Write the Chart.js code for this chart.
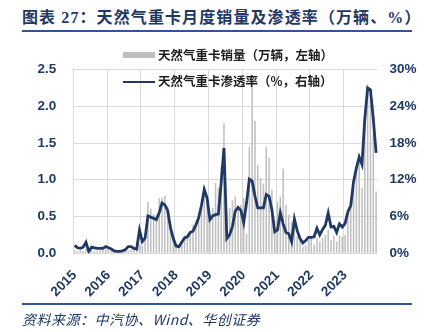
<!DOCTYPE html>
<html>
<head>
<meta charset="utf-8">
<script src="https://cdn.jsdelivr.net/npm/chart.js@4/dist/chart.umd.min.js"></script>
<style>
  body { margin: 0; background: #fff; }
  #wrap { position: relative; width: 434px; height: 332px; overflow: hidden; }
  #chart { position: absolute; left: 0; top: 0; }
  .title { position: absolute; left: 22px; top: 4px; font: bold 16px "Liberation Serif", "Noto Sans CJK SC", serif; color: #1F3864; white-space: nowrap; letter-spacing: 1.1px; }
  .rule { position: absolute; left: 22px; width: 390px; height: 2px; background: #2F5597; }
  .lg-text { position: absolute; left: 158px; font: bold 12.5px "Noto Sans CJK SC", sans-serif; color: #1c1c1c; white-space: nowrap; line-height: 14px; }
  .source { position: absolute; left: 22px; top: 310px; font: italic 14px "Noto Sans CJK SC", serif; color: #1F3864; white-space: nowrap; line-height: 18px; letter-spacing: 0.5px; }
</style>
</head>
<body>
<div id="wrap">
  <div class="title">图表 27：天然气重卡月度销量及渗透率（万辆、%）</div>
  <div class="rule" style="top:29.5px"></div>
  <canvas id="chart" width="434" height="332"></canvas>
  <div style="position:absolute;left:123px;top:52px;width:32px;height:5.5px;background:#BFBFBF"></div>
  <div class="lg-text" style="top:48px">天然气重卡销量（万辆，左轴）</div>
  <div style="position:absolute;left:123px;top:80.5px;width:32px;height:2.6px;background:#1F3864"></div>
  <div class="lg-text" style="top:74px">天然气重卡渗透率（%，右轴）</div>
  <div class="rule" style="top:302.5px"></div>
  <div class="source">资料来源：中汽协、Wind、华创证券</div>
</div>
<script>
const years = ['2015', '2016', '2017', '2018', '2019', '2020', '2021', '2022', '2023'];
const months = years.flatMap(y => Array.from({ length: 12 }, (_, i) => y + '-' + String(i + 1).padStart(2, '0')));

// 天然气重卡销量（万辆）
const sales = [
  0.04, 0.03, 0.04, 0.03, 0.06, 0.02, 0.04, 0.03, 0.03, 0.04, 0.05, 0.06,
  0.04, 0.03, 0.02, 0.02, 0.02, 0.02, 0.03, 0.04, 0.05, 0.06, 0.08, 0.12,
  0.10, 0.18, 0.70, 0.61, 0.53, 0.52, 0.75, 0.76, 0.78, 0.64, 0.40, 0.23,
  0.09, 0.07, 0.14, 0.23, 0.26, 0.28, 0.39, 0.37, 0.47, 0.64, 0.91, 0.75,
  0.50, 0.62, 0.96, 0.89, 1.19, 1.77, 0.55, 0.62, 0.72, 0.77, 0.63, 0.66,
  0.75, 0.27, 1.45, 2.26, 1.80, 1.20, 1.02, 0.95, 1.45, 1.30, 0.86, 0.45,
  0.70, 0.77, 1.15, 0.66, 0.52, 0.43, 0.37, 0.23, 0.18, 0.09, 0.11, 0.18,
  0.23, 0.12, 0.21, 0.16, 0.21, 0.25, 0.32, 0.18, 0.24, 0.16, 0.24, 0.23,
  0.25, 0.55, 0.66, 0.89, 1.14, 1.36, 0.89, 1.75, 2.30, 2.15, 1.64, 0.84
];

// 天然气重卡渗透率（%）
const penetration = [
  1.3, 0.9, 0.8, 1.0, 1.8, 0.3, 1.0, 0.9, 0.8, 0.8, 0.8, 1.1,
  0.9, 0.7, 0.4, 0.3, 0.3, 0.4, 0.6, 1.1, 1.1, 0.8, 0.7, 3.8,
  1.9, 2.5, 6.1, 5.9, 5.7, 5.5, 6.6, 8.2, 7.9, 7.0, 4.2, 2.4,
  1.2, 1.1, 1.8, 2.5, 2.7, 3.4, 3.6, 4.6, 5.8, 7.8, 10.4, 9.0,
  5.5, 6.1, 6.3, 6.4, 11.5, 17.2, 2.4, 3.0, 4.4, 6.9, 7.5, 7.0,
  5.0, 8.2, 12.1, 11.8, 9.3, 7.4, 7.4, 7.4, 9.6, 9.3, 7.1, 3.5,
  3.8, 6.6, 4.8, 3.4, 3.2, 1.9, 5.6, 3.7, 2.4, 1.7, 2.1, 2.6,
  2.6, 2.7, 4.1, 3.0, 3.9, 4.6, 6.6, 4.3, 4.4, 3.4, 4.8, 4.3,
  4.9, 6.8, 7.8, 11.7, 13.9, 15.7, 14.5, 22.0, 27.0, 26.7, 22.0, 16.4
];

const NAVY = '#1F3864';
const GRID = '#D9D9D9';

Chart.defaults.font.family = '"Liberation Sans", Arial, sans-serif';
Chart.defaults.font.weight = 'bold';
Chart.defaults.font.size = 13.5;
Chart.defaults.color = NAVY;

new Chart(document.getElementById('chart'), {
  data: {
    labels: months,
    datasets: [
      {
        type: 'line',
        label: '天然气重卡渗透率（%，右轴）',
        data: penetration,
        yAxisID: 'y1',
        borderColor: NAVY,
        borderWidth: 2.8,
        pointRadius: 0,
        tension: 0,
        order: 0,
      },
      {
        type: 'bar',
        label: '天然气重卡销量（万辆，左轴）',
        data: sales,
        yAxisID: 'y',
        backgroundColor: '#BFBFBF',
        barPercentage: 0.55,
        categoryPercentage: 1,
        order: 1,
      },
    ],
  },
  options: {
    responsive: false,
    animation: false,
    layout: { padding: { top: 69.5, left: 0, right: 0, bottom: 0 } },
    plugins: { legend: { display: false }, tooltip: { enabled: false } },
    scales: {
      x: {
        offset: true,
        grid: {
          offset: true,
          drawTicks: false,
          color: ctx => ctx.index % 12 === 0 ? GRID : 'transparent',
        },
        border: { display: false },
        ticks: {
          autoSkip: false,
          minRotation: 45,
          maxRotation: 45,
          padding: 14,
          callback: (v, i) => i % 12 === 0 ? months[i].slice(0, 4) : '',
        },
        afterFit: s => { s.height = 78.7; },
      },
      y: {
        position: 'left',
        min: 0,
        max: 2.5,
        grid: { color: GRID, drawTicks: false },
        border: { display: false },
        ticks: { stepSize: 0.5, padding: 17, callback: v => v.toFixed(1) },
        afterFit: s => { s.width = 73.3; },
      },
      y1: {
        position: 'right',
        min: 0,
        max: 30,
        grid: { display: false, drawTicks: false },
        border: { display: false },
        ticks: { stepSize: 6, padding: 12, callback: v => v + '%' },
        afterFit: s => { s.width = 56.5; },
      },
    },
  },
});
</script>
</body>
</html>
